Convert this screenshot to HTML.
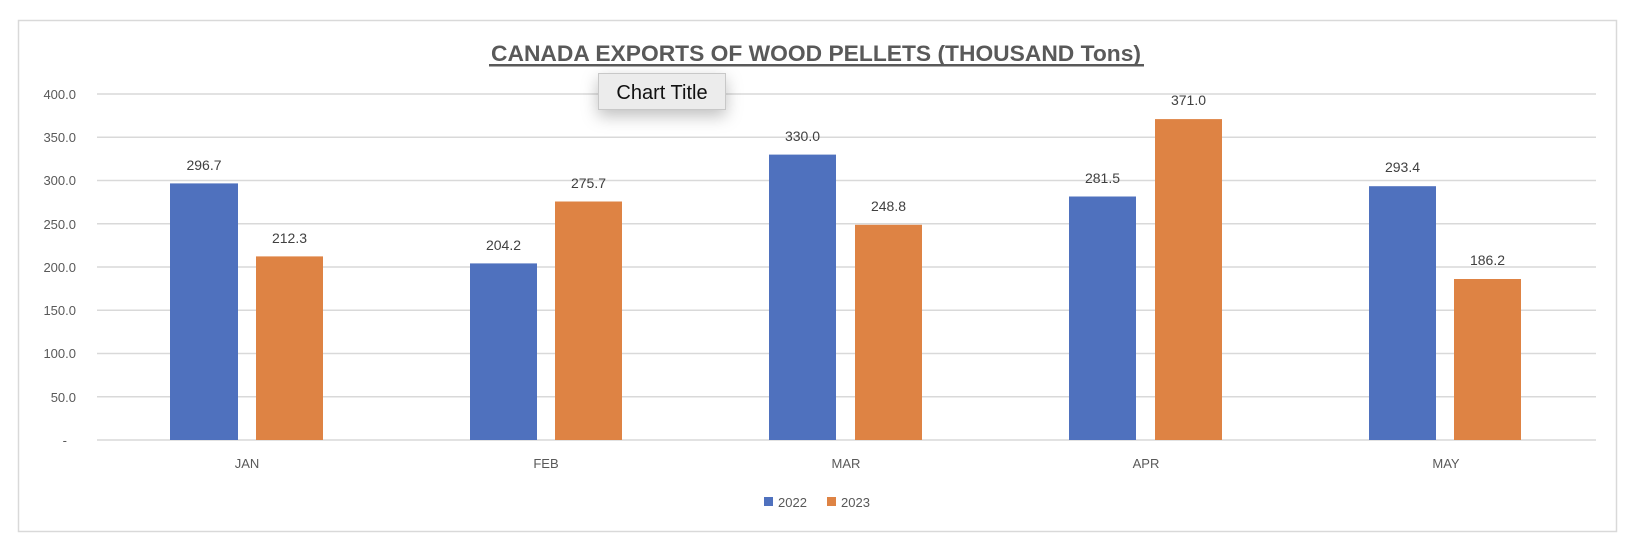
<!DOCTYPE html>
<html><head><meta charset="utf-8"><style>
html,body{margin:0;padding:0;background:#fff;}
svg{display:block;font-family:"Liberation Sans",sans-serif;}
</style></head><body>
<svg width="1638" height="554" viewBox="0 0 1638 554" xmlns="http://www.w3.org/2000/svg">
<defs>
<filter id="sh" x="-50%" y="-50%" width="200%" height="250%"><feDropShadow dx="0" dy="6" stdDeviation="8" flood-color="#000" flood-opacity="0.25"/></filter>
</defs>
<rect x="18.5" y="20.5" width="1598" height="511" fill="#fff" stroke="#d9d9d9" stroke-width="1.5"/>
<g stroke="#d9d9d9" stroke-width="1.5">
<line x1="97" x2="1596" y1="94" y2="94"/>
<line x1="97" x2="1596" y1="137.25" y2="137.25"/>
<line x1="97" x2="1596" y1="180.5" y2="180.5"/>
<line x1="97" x2="1596" y1="223.75" y2="223.75"/>
<line x1="97" x2="1596" y1="267" y2="267"/>
<line x1="97" x2="1596" y1="310.25" y2="310.25"/>
<line x1="97" x2="1596" y1="353.5" y2="353.5"/>
<line x1="97" x2="1596" y1="396.75" y2="396.75"/>
<line x1="97" x2="1596" y1="440" y2="440"/>
</g>
<g font-size="13" fill="#595959" text-anchor="end">
<text x="76" y="99">400.0</text>
<text x="76" y="142">350.0</text>
<text x="76" y="185">300.0</text>
<text x="76" y="229">250.0</text>
<text x="76" y="272">200.0</text>
<text x="76" y="315">150.0</text>
<text x="76" y="358">100.0</text>
<text x="76" y="402">50.0</text>
<text x="67" y="445">-</text>
</g>
<g>
<rect x="170" y="183.4" width="68" height="256.6" fill="#4f71be"/>
<rect x="256" y="256.4" width="67" height="183.6" fill="#de8344"/>
<rect x="470" y="263.4" width="67" height="176.6" fill="#4f71be"/>
<rect x="555" y="201.5" width="67" height="238.5" fill="#de8344"/>
<rect x="769" y="154.6" width="67" height="285.4" fill="#4f71be"/>
<rect x="855" y="224.8" width="67" height="215.2" fill="#de8344"/>
<rect x="1069" y="196.5" width="67" height="243.5" fill="#4f71be"/>
<rect x="1155" y="119.1" width="67" height="320.9" fill="#de8344"/>
<rect x="1369" y="186.2" width="67" height="253.8" fill="#4f71be"/>
<rect x="1454" y="279" width="67" height="161" fill="#de8344"/>
</g>
<g font-size="14" fill="#404040" text-anchor="middle">
<text x="204" y="170">296.7</text>
<text x="289.5" y="243">212.3</text>
<text x="503.5" y="250">204.2</text>
<text x="588.5" y="188">275.7</text>
<text x="802.5" y="141">330.0</text>
<text x="888.5" y="211">248.8</text>
<text x="1102.5" y="183">281.5</text>
<text x="1188.5" y="105">371.0</text>
<text x="1402.5" y="172">293.4</text>
<text x="1487.5" y="265">186.2</text>
</g>
<g font-size="13" fill="#595959" text-anchor="middle">
<text x="247" y="468">JAN</text>
<text x="546" y="468">FEB</text>
<text x="846" y="468">MAR</text>
<text x="1146" y="468">APR</text>
<text x="1446" y="468">MAY</text>
</g>
<rect x="764" y="497" width="9" height="9" fill="#4f71be"/>
<text x="778" y="507" font-size="13" fill="#595959">2022</text>
<rect x="827" y="497" width="9" height="9" fill="#de8344"/>
<text x="841" y="507" font-size="13" fill="#595959">2023</text>
<text x="816" y="61" font-size="22" font-weight="bold" fill="#595959" text-anchor="middle" textLength="650" lengthAdjust="spacingAndGlyphs">CANADA EXPORTS OF WOOD PELLETS (THOUSAND Tons)</text>
<rect x="489" y="64" width="655" height="2.5" fill="#595959"/>
<rect x="598.5" y="73.5" width="127" height="36" fill="#ececec" stroke="#c8c8c8" filter="url(#sh)"/>
<text x="662" y="99" font-size="20" fill="#111" text-anchor="middle">Chart Title</text>
</svg>
</body></html>
